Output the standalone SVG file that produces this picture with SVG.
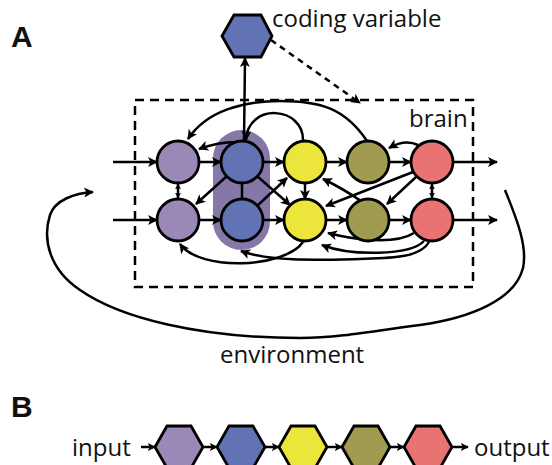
<svg xmlns="http://www.w3.org/2000/svg" width="552" height="465" viewBox="0 0 552 465">
<defs>
<style>
.n{stroke:#000;stroke-width:2.8}
.c{fill:none;stroke:#000;stroke-width:2.5}
.a{marker-end:url(#ah)}
.t{font-family:"Open Sans","Noto Sans","DejaVu Sans",sans-serif;font-size:24px;fill:#111}
.L{font-family:"Liberation Sans",Arial,sans-serif;font-weight:bold;font-size:30px;fill:#111}
.pu{fill:#9a88b6}.bl{fill:#6173b5}.ye{fill:#ece53c}.ol{fill:#a19b51}.re{fill:#e97273}
</style>
<marker id="ah" viewBox="0 0 10 10" refX="9" refY="5" markerWidth="11" markerHeight="10" markerUnits="userSpaceOnUse" orient="auto"><path d="M0,0 L10,5 L0,10 L2.5,5 z" fill="#000"/></marker>
<marker id="sm" viewBox="0 0 10 10" refX="9" refY="5" markerWidth="6" markerHeight="6" markerUnits="userSpaceOnUse" orient="auto-start-reverse"><path d="M0,0 L10,5 L0,10 L2.5,5 z" fill="#000"/></marker>
<marker id="bh" viewBox="0 0 10 10" refX="9" refY="5" markerWidth="8" markerHeight="8" markerUnits="userSpaceOnUse" orient="auto"><path d="M0,0 L10,5 L0,10 L2.5,5 z" fill="#000"/></marker>
</defs>
<rect width="552" height="465" fill="#fff"/>
<text class="L" x="11" y="47">A</text>
<text class="L" x="11" y="417">B</text>

<rect id="brain-box" x="135" y="100" width="338" height="187" fill="none" stroke="#000" stroke-width="2.5" stroke-dasharray="9,6"/>
<text class="t" x="409" y="127">brain</text>
<rect id="highlight" x="213" y="130" width="57" height="120" rx="28.5" fill="#8577a8"/>

<g id="connectors">
<path class="c a" d="M113,162 L157,162"/>
<path class="c a" d="M113,220 L157,220"/>
<path class="c a" d="M199,162 L221,162"/>
<path class="c a" d="M263,162 L284,162"/>
<path class="c a" d="M326,162 L347,162"/>
<path class="c a" d="M389,162 L411,162"/>
<path class="c a" d="M453,162 L497,162"/>
<path class="c a" d="M199,220 L221,220"/>
<path class="c a" d="M263,220 L284,220"/>
<path class="c a" d="M326,220 L347,220"/>
<path class="c a" d="M389,220 L411,220"/>
<path class="c a" d="M453,220 L497,220"/>
<path class="c" d="M178,184 L178,198" stroke-width="1.8" marker-start="url(#sm)" marker-end="url(#sm)"/>
<path class="c" d="M432,184 L432,198" stroke-width="1.8" marker-start="url(#sm)" marker-end="url(#sm)"/>
<path class="c" d="M242,183 L242,199"/>
<path class="c a" d="M305,183 L305,199"/>
<path class="c a" d="M227,176 L196,204"/>
<path class="c a" d="M257,176 L290,205"/>
<path class="c a" d="M257,206 L287,178"/>
<path class="c a" d="M361,201 Q342,188 323,179"/>
<path class="c a" d="M413,172 L326,206"/>
<path class="c a" d="M416,177 L387,204"/>
<path class="c a" d="M418,145 Q405,139 389,148"/>
<path class="c a" d="M242,142 Q220,141 199,149"/>
<path class="c a" d="M303,141 C304,106 248,102 246,140"/>
<path class="c a" d="M367,141 C345,108 320,101 280,101 C245,101 207,110 188,139"/>
<path class="c a" d="M303,242 C285,268 200,272 180,244"/>
<path class="c a" d="M429,242 C420,258 390,258 360,259 C320,260 270,262 241,251"/>
<path class="c a" d="M424,241 C410,256 350,256 322,245"/>
<path class="c a" d="M414,233 C395,245 355,240 328,233"/>
<path class="c a" d="M244,141 L245,58"/>
<path class="c a" d="M271,40 L360,103" stroke-dasharray="6,5"/>
<path class="c a" d="M505,190 C515,215 528,245 523,268 C515,300 470,318 420,325 C380,330 340,338 300,338 C200,338 120,318 80,290 C50,270 42,240 50,215 C55,200 75,193 93,192"/>
<path class="c" stroke-width="2.2" marker-end="url(#bh)" d="M141,447 L155,447"/>
<path class="c" stroke-width="2.2" marker-end="url(#bh)" d="M203,447 L217,447"/>
<path class="c" stroke-width="2.2" marker-end="url(#bh)" d="M265,447 L279,447"/>
<path class="c" stroke-width="2.2" marker-end="url(#bh)" d="M327,447 L342,447"/>
<path class="c" stroke-width="2.2" marker-end="url(#bh)" d="M390,447 L404,447"/>
<path class="c" stroke-width="2.2" marker-end="url(#bh)" d="M452,447 L468,447"/>
</g>

<g id="P1"><circle class="n pu" cx="178" cy="162" r="21"/></g>
<g id="B1"><circle class="n bl" cx="242" cy="162" r="21"/></g>
<g id="Y1"><circle class="n ye" cx="305" cy="162" r="21"/></g>
<g id="O1"><circle class="n ol" cx="368" cy="162" r="21"/></g>
<g id="R1"><circle class="n re" cx="432" cy="162" r="21"/></g>
<g id="P2"><circle class="n pu" cx="178" cy="220" r="21"/></g>
<g id="B2"><circle class="n bl" cx="242" cy="220" r="21"/></g>
<g id="Y2"><circle class="n ye" cx="305" cy="220" r="21"/></g>
<g id="O2"><circle class="n ol" cx="368" cy="220" r="21"/></g>
<g id="R2"><circle class="n re" cx="432" cy="220" r="21"/></g>

<g id="coding-variable"><polygon class="n bl" points="234,15 261,15 272,36 261,57 234,57 222,36"/><text class="t" x="272" y="27">coding variable</text></g>
<text class="t" x="220" y="363">environment</text>

<g id="H1"><polygon class="n pu" points="167,426 191,426 203,447 191,468 167,468 155,447"/></g>
<g id="H2"><polygon class="n bl" points="229,426 253,426 265,447 253,468 229,468 217,447"/></g>
<g id="H3"><polygon class="n ye" points="291,426 315,426 327,447 315,468 291,468 279,447"/></g>
<g id="H4"><polygon class="n ol" points="354,426 378,426 390,447 378,468 354,468 342,447"/></g>
<g id="H5"><polygon class="n re" points="416,426 440,426 452,447 440,468 416,468 404,447"/></g>
<text class="t" x="72" y="456">input</text>
<text class="t" x="474" y="456">output</text>
</svg>
